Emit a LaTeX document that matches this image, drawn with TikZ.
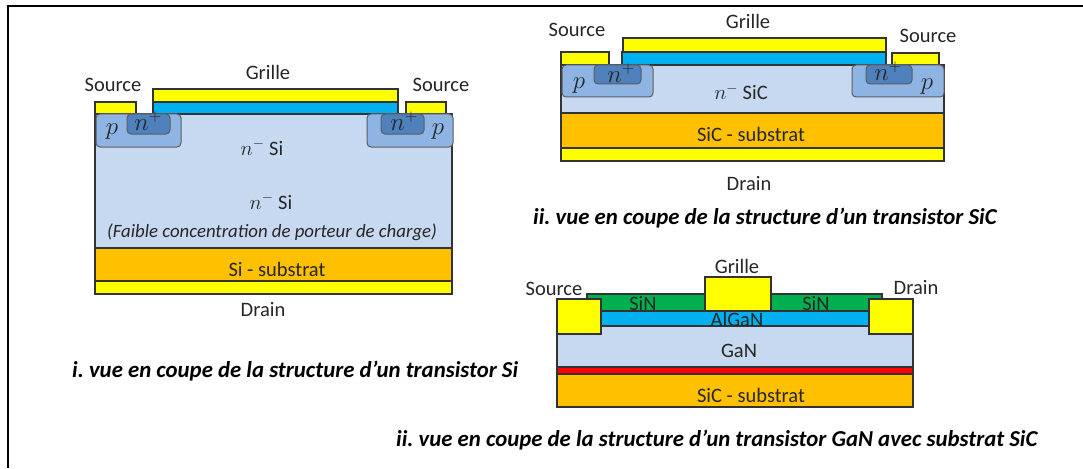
\documentclass[tikz,border=0pt]{standalone}
\usepackage{amsmath}
\usepackage{fontspec}
\setmainfont{Carlito}
\frenchspacing
\definecolor{metal}{HTML}{FFFF00}
\definecolor{oxide}{HTML}{00B0F0}
\definecolor{drift}{HTML}{C6D9F1}
\definecolor{subst}{HTML}{FFC000}
\definecolor{pwell}{HTML}{8EB4E3}
\definecolor{nplus}{HTML}{4F81BD}
\definecolor{nitride}{HTML}{00B050}
\definecolor{edge}{HTML}{333333}
\begin{document}
\begin{tikzpicture}[x=1pt,y=-1pt,
    layerstyle/.style={draw=edge,line width=1.4pt},
    wellstyle/.style={draw=edge!80,line width=1pt,rounded corners=4pt},
    textstyle/.style={inner sep=0,anchor=base,text=black!85,font=\fontsize{20.5}{24}\selectfont},
    mathstyle/.style={textstyle,font=\fontsize{23}{26}\selectfont},
    capstyle/.style={inner sep=0,anchor=base west,text=black,font=\fontsize{22.8}{26}\selectfont\bfseries\itshape}]
  \useasboundingbox (0,0) rectangle (1083,468);
  \draw [line width=2pt] (8,468)--(8,6)--(1083,6);

  % layers : x1/y1/x2/y2/colour
  \foreach \xa/\ya/\xb/\yb/\col in {
      95/102/136/114/metal, 406/102/446/114/metal, 153/89/398/102/metal, 153/102/398/114/oxide,
      95/114/452/248/drift, 95/248/452/281/subst, 95/281/452/294/metal,
      561/52/609/65/metal, 892/53/939/65/metal, 623/38/886/52/metal, 622/52/886/65/oxide,
      561/65/944/113/drift, 561/113/944/148/subst, 561/148/944/161/metal,
      587/294/882/311/nitride, 601/311/869/326/oxide, 557/326/913/367/drift,
      557/367/913/374/red, 557/374/913/407/subst,
      705/277/771/311/metal, 557/299/601/334/metal, 869/299/913/334/metal}
    \draw [layerstyle,fill=\col] (\xa,\ya) rectangle (\xb,\yb);

  % wells
  \foreach \xa/\ya/\xb/\yb/\col in {
      96/114/181/147/pwell, 127/114/170/134/nplus, 367/114/453/147/pwell, 381/114/424/134/nplus,
      562/65/653/97/pwell, 594/65/641/84/nplus, 852/65/944/97/pwell, 866/65/912/84/nplus}
    \draw [wellstyle,fill=\col] (\xa,\ya) rectangle (\xb,\yb);

  % labels
  \foreach \nm/\x/\y/\txt in {
      srcA/113/92/Source, grilleA/268/80/Grille, srcB/441/92/Source,
      driftA/262/155/{$n^{-}$ Si}, driftB/271/209/{$n^{-}$ Si},
      subA/277/276/Si - substrat, drainA/263/316/Drain,
      srcC/577/37/Source, grilleC/748/29/Grille, srcD/928/43/Source,
      driftC/741/100/{$n^{-}$ SiC}, subC/751/141/SiC - substrat, drainC/749/190/Drain,
      srcE/554/295/Source, grilleE/737/273/Grille, drainE/916/294/Drain,
      sinA/643/310/SiN, sinB/816/310/SiN, algan/737/326/AlGaN, gan/739/357/GaN,
      subE/751/402/SiC - substrat}
    \node [textstyle] (\nm) at (\x,\y) {\txt};
  \foreach \nm/\x/\y/\txt in {
      pA/112/135/$p$, nA/148/131/$n^{+}$, nB/404/131/$n^{+}$, pB/438/135/$p$,
      pC/579/89/$p$, nC/621/83/$n^{+}$, nD/888/81/$n^{+}$, pD/927/90/$p$}
    \node [mathstyle] (\nm) at (\x,\y) {\txt};
  \node [textstyle,font=\fontsize{18.8}{22}\selectfont\itshape] (low) at (272,237) {(Faible concentration de porteur de charge)};

  % captions
  \node [capstyle] (capA) at (72,377) {i. vue en coupe de la structure d’un transistor Si};
  \node [capstyle] (capB) at (533,224) {ii. vue en coupe de la structure d’un transistor SiC};
  \node [capstyle] (capC) at (396,446) {ii. vue en coupe de la structure d’un transistor GaN avec substrat SiC};
\end{tikzpicture}
\end{document}
